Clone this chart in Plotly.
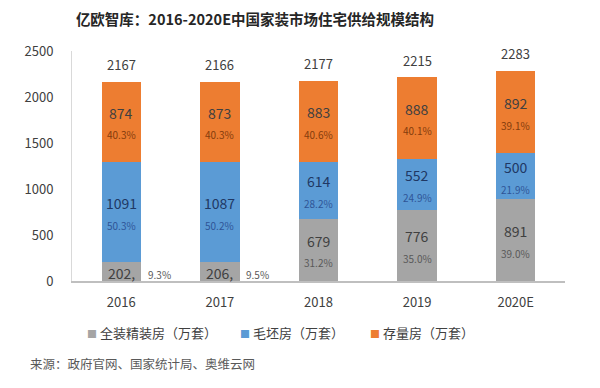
import plotly.graph_objects as go

years = ["2016", "2017", "2018", "2019", "2020E"]
full_decor = [202, 206, 679, 776, 891]
rough = [1091, 1087, 614, 552, 500]
stock = [874, 873, 883, 888, 892]
totals = [2167, 2166, 2177, 2215, 2283]
full_pct = ["9.3%", "9.5%", "31.2%", "35.0%", "39.0%"]
rough_pct = ["50.3%", "50.2%", "28.2%", "24.9%", "21.9%"]
stock_pct = ["40.3%", "40.3%", "40.6%", "40.1%", "39.1%"]
full_text = ["202,", "206,", "679", "776", "891"]

names = ["全装精装房（万套）", "毛坯房（万套）", "存量房（万套）"]
colors = ["#A5A5A5", "#5B9BD5", "#ED7D31"]
FONT = "Noto Sans CJK SC"

OFF = 8  # page body margin offset
L, T, PW, PH = 72 - OFF, 51 - OFF, 493, 230

fig = go.Figure()
series = [full_decor, rough, stock]
for name, vals, col in zip(names, series, colors):
    fig.add_trace(go.Bar(x=years, y=vals, name=name, marker_color=col,
                         marker_line_width=0, hoverinfo="skip", showlegend=False))

ann = []
num_col = "#404040"
pct_col = ["#595959", "#2F5597", "#843C0C"]
for i, yr in enumerate(years):
    bases = [0, full_decor[i], full_decor[i] + rough[i]]
    vals = [full_decor[i], rough[i], stock[i]]
    pcts = [full_pct[i], rough_pct[i], stock_pct[i]]
    texts = [full_text[i], str(rough[i]), str(stock[i])]
    for k in range(3):
        mid = bases[k] + vals[k] / 2
        if k == 0 and vals[k] < 400:
            ann.append(dict(x=i, y=mid, text=texts[k], showarrow=False, yshift=-1,
                            font=dict(family=FONT, size=14, color=num_col)))
            ann.append(dict(x=i, y=mid, text=pcts[k], showarrow=False, xshift=38, yshift=-3,
                            font=dict(family=FONT, size=10, color="#595959")))
        else:
            ann.append(dict(x=i, y=mid, text=texts[k], showarrow=False, yshift=9,
                            font=dict(family=FONT, size=14, color=num_col if k != 1 else "#203864")))
            ann.append(dict(x=i, y=mid, text=pcts[k], showarrow=False, yshift=-13,
                            font=dict(family=FONT, size=10, color=pct_col[k])))
    ann.append(dict(x=i, y=totals[i], text=str(totals[i]), showarrow=False, yshift=17,
                    font=dict(family=FONT, size=13, color="#404040")))

# legend drawn as annotations (small squares close to text, as in the reference)
leg_x = [85, 238, 368]
for name, col, xp in zip(names, colors, leg_x):
    ann.append(dict(xref="paper", yref="paper", x=(xp - 72) / PW, y=-(332 - 281) / PH,
                    xanchor="left", yanchor="middle", showarrow=False,
                    text=f'<span style="color:{col};font-size:10px">■</span> {name}',
                    font=dict(family=FONT, size=13, color="#404040")))

ann.append(dict(xref="paper", yref="paper", x=(28 - 72) / PW, y=-(363 - 281) / PH,
                xanchor="left", yanchor="middle",
                text="来源：政府官网、国家统计局、奥维云网", showarrow=False,
                font=dict(family=FONT, size=12.5, color="#595959")))

fig.update_layout(
    width=600, height=388,
    margin=dict(l=L, r=600 - L - PW, t=T, b=388 - T - PH),
    paper_bgcolor="white", plot_bgcolor="white",
    barmode="stack", bargap=0.6,
    title=dict(text="<b>亿欧智库：2016-2020E中国家装市场住宅供给规模结构</b>",
               x=(255 - OFF) / 600, xanchor="center", y=1 - 12 / 388, yanchor="middle",
               font=dict(family=FONT, size=14.5, color="#262626")),
    font=dict(family=FONT, color="#595959"),
    showlegend=False,
    annotations=ann,
    xaxis=dict(type="category", showline=True, linecolor="#BFBFBF", linewidth=2, ticks="",
               tickfont=dict(family=FONT, size=13, color="#404040"), showgrid=False,
               ticklabelstandoff=8, fixedrange=True, automargin=False),
    yaxis=dict(range=[0, 2500], dtick=500, showline=True, linecolor="#D9D9D9", linewidth=1,
               showgrid=False, zeroline=False, ticks="", ticklen=0, ticklabelstandoff=15,
               tickfont=dict(family=FONT, size=13, color="#404040"), fixedrange=True,
               automargin=False),
)

fig.write_html("out.html")
